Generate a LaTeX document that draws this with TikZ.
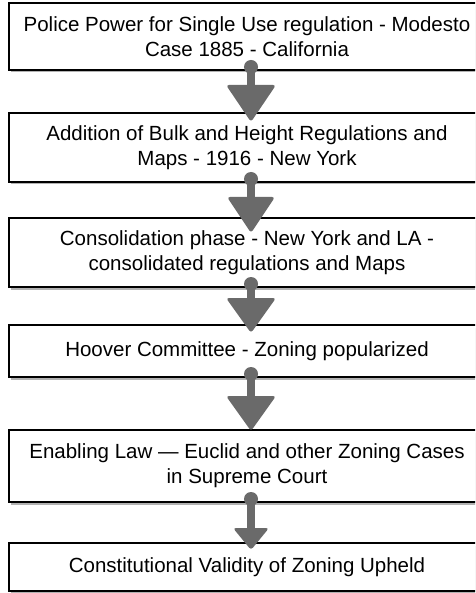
\documentclass[tikz,border=0pt]{standalone}
\usepackage{fontspec}
\setmainfont{Liberation Sans}
\usetikzlibrary{calc,shadows}
\definecolor{arrowgray}{HTML}{6A6A6A}
\tikzset{
  stage/.style={draw=black, line width=2.8pt, fill=white, minimum width=476pt,
    inner sep=0pt, outer sep=0pt, align=center,
    font=\fontsize{20.5}{25}\selectfont,
    drop shadow={shadow xshift=1.5pt, shadow yshift=-2.5pt, opacity=0.3, fill=black}},
  flow/.style={fill=arrowgray}
}
% knob + stem + rounded triangle between two stages
% #1 from, #2 to, #3 tip drop below top edge, #4 head height, #5 head half width
\newcommand\flowarrow[5]{%
  \coordinate (#1-knob) at ($(#1.south)+(4,-3)$);
  \coordinate (#1-tip) at ($(#2.north)+(4,#3)$);
  \fill[flow] (#1-knob) circle (7pt);
  \fill[flow] ($(#1-knob)+(-4,0)$) rectangle ($(#1-tip)+(4,-#4+2)$);
  \fill[flow, rounded corners=3pt] (#1-tip) -- ($(#1-tip)+(-#5,-#4)$) -- ($(#1-tip)+(#5,-#4)$) -- cycle;
}
\begin{document}
\begin{tikzpicture}[x=1pt,y=-1pt]
  \useasboundingbox (0,0) rectangle (475,593);
  \fill[white] (0,0) rectangle (475,593);
  \clip (0,0) rectangle (475,593);

  \node[stage, minimum height=67pt] (s1) at (247,36.5)
    {Police Power for Single Use regulation - Modesto\\Case 1885 - California};
  \node[stage, minimum height=69pt] (s2) at (247,147.5)
    {Addition of Bulk and Height Regulations and\\Maps - 1916 - New York};
  \node[stage, minimum height=69pt] (s3) at (247,252.5)
    {Consolidation phase - New York and LA -\\consolidated regulations and Maps};
  \node[stage, minimum height=52pt] (s4) at (247,351)
    {Hoover Committee - Zoning popularized};
  \node[stage, minimum height=72pt] (s5) at (247,466)
    {Enabling Law --- Euclid and other Zoning Cases\\in Supreme Court};
  \node[stage, minimum height=48pt] (s6) at (247,567)
    {Constitutional Validity of Zoning Upheld};

  \flowarrow{s1}{s2}{9}{37}{25}
  \flowarrow{s2}{s3}{15}{36}{24}
  \flowarrow{s3}{s4}{8}{35}{25}
  \flowarrow{s4}{s5}{1}{35}{25}
  \flowarrow{s5}{s6}{7}{22}{18}
\end{tikzpicture}
\end{document}
